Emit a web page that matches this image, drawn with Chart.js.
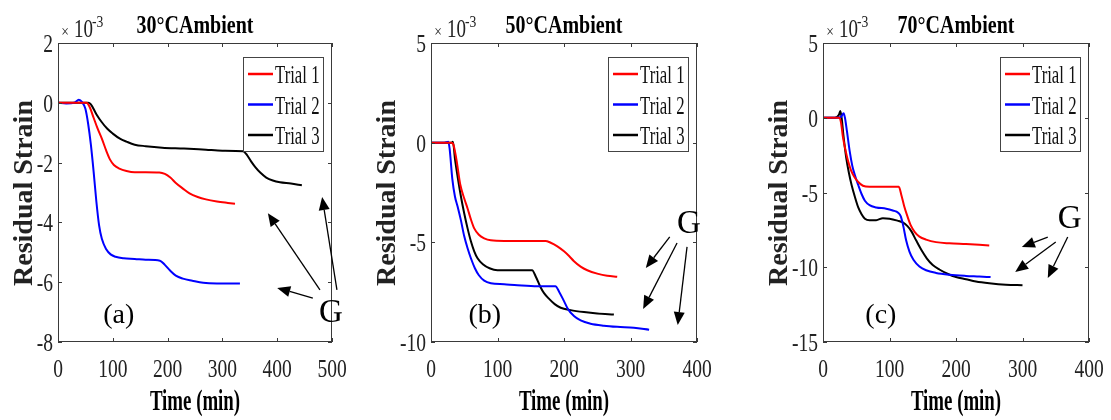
<!DOCTYPE html>
<html>
<head>
<meta charset="utf-8">
<script src="https://cdn.jsdelivr.net/npm/chart.js@4.4.1/dist/chart.umd.min.js"></script>
<style>
  body { margin: 0; background: #fff; }
  canvas { position: absolute; top: 0; }
</style>
</head>
<body>
<canvas id="pa" width="370" height="420" style="left:0px"></canvas>
<canvas id="pb" width="370" height="420" style="left:370px"></canvas>
<canvas id="pc" width="371" height="420" style="left:740px"></canvas>
<script>
// ---- data (time in min, strain in x10^-3) ----
const trialLabels = ['Trial 1', 'Trial 2', 'Trial 3'];
const trialColors = ['#ff0000', '#0000ff', '#000000'];

// (a) 30°C
const a1Time   = [0, 20, 40, 52, 58, 65, 72, 80, 88, 95, 102, 112, 125, 140, 160, 185, 195, 205, 215, 228, 240, 255, 270, 290, 310, 323];
const a1Strain = [0, 0, 0, 0, -0.15, -0.5, -0.85, -1.2, -1.6, -1.9, -2.08, -2.2, -2.28, -2.32, -2.32, -2.33, -2.38, -2.5, -2.68, -2.87, -3.03, -3.15, -3.23, -3.3, -3.35, -3.38];
const a2Time   = [0, 15, 30, 38, 44, 50, 55, 60, 65, 70, 75, 80, 88, 96, 105, 120, 140, 160, 186, 195, 205, 215, 228, 245, 265, 290, 332];
const a2Strain = [0, -0.02, 0, 0.1, 0.02, -0.2, -0.7, -1.4, -2.3, -3.3, -4.1, -4.55, -4.9, -5.07, -5.15, -5.2, -5.22, -5.25, -5.28, -5.42, -5.62, -5.78, -5.88, -5.95, -6.02, -6.04, -6.04];
const a3Time   = [0, 20, 40, 55, 60, 70, 80, 90, 100, 113, 125, 140, 160, 190, 230, 270, 300, 338, 345, 352, 360, 370, 380, 392, 405, 425, 445];
const a3Strain = [0, 0, 0, 0, -0.05, -0.38, -0.65, -0.87, -1.03, -1.2, -1.3, -1.4, -1.45, -1.5, -1.53, -1.57, -1.6, -1.62, -1.75, -1.95, -2.15, -2.35, -2.5, -2.6, -2.66, -2.7, -2.76];

// (b) 50°C
const b1Time   = [0, 20, 30, 33, 38, 44, 50, 55, 60, 65, 72, 80, 90, 110, 140, 172, 180, 190, 200, 208, 215, 225, 235, 250, 265, 280];
const b1Strain = [0, 0, 0, -0.05, -0.8, -2.1, -2.8, -3.3, -3.85, -4.3, -4.62, -4.8, -4.9, -4.93, -4.93, -4.93, -5.02, -5.2, -5.45, -5.7, -5.95, -6.22, -6.4, -6.57, -6.68, -6.73];
const b2Time   = [0, 20, 26, 28, 32, 36, 40, 45, 50, 55, 60, 66, 72, 80, 90, 110, 130, 160, 187, 193, 200, 206, 215, 225, 240, 260, 280, 305, 328];
const b2Strain = [0, 0, 0.05, -0.3, -1.8, -2.7, -3.2, -3.9, -4.7, -5.3, -5.8, -6.3, -6.65, -6.92, -7.05, -7.1, -7.15, -7.2, -7.2, -7.5, -7.95, -8.35, -8.7, -8.92, -9.08, -9.18, -9.24, -9.29, -9.38];
const b3Time   = [0, 25, 31, 33, 36, 40, 45, 50, 55, 60, 65, 70, 78, 88, 100, 120, 152, 158, 164, 170, 178, 186, 195, 210, 230, 250, 275];
const b3Strain = [0, 0, 0, 0.05, -0.8, -1.7, -2.7, -3.55, -4.3, -4.95, -5.45, -5.8, -6.1, -6.3, -6.4, -6.4, -6.4, -6.75, -7.2, -7.55, -7.85, -8.1, -8.28, -8.4, -8.5, -8.57, -8.62];

// (c) 70°C
const c1Time   = [0, 15, 24, 27, 30, 34, 38, 42, 47, 53, 60, 70, 90, 114, 118, 122, 127, 132, 138, 145, 155, 170, 190, 215, 235, 250];
const c1Strain = [0, 0, 0, -0.3, -1.3, -2.2, -2.95, -3.5, -3.95, -4.3, -4.55, -4.62, -4.62, -4.62, -5.2, -5.9, -6.6, -7.2, -7.65, -7.95, -8.15, -8.32, -8.4, -8.45, -8.5, -8.55];
const c2Time   = [0, 20, 27, 31, 33, 36, 40, 44, 48, 53, 58, 63, 70, 80, 95, 105, 113, 117, 121, 125, 130, 136, 145, 155, 170, 190, 215, 235, 252];
const c2Strain = [0, 0, 0.05, 0.3, 0, -0.9, -2.2, -3.2, -3.85, -4.5, -5.1, -5.55, -5.85, -6.0, -6.08, -6.2, -6.35, -6.6, -7.3, -8.2, -8.95, -9.5, -9.95, -10.2, -10.38, -10.5, -10.58, -10.62, -10.66];
const c3Time   = [0, 18, 24, 26, 28, 31, 35, 39, 43, 48, 53, 58, 63, 70, 80, 90, 100, 112, 120, 127, 133, 140, 148, 156, 165, 175, 188, 200, 215, 230, 250, 275, 300];
const c3Strain = [0, 0, 0.2, 0.45, 0, -1.3, -2.7, -3.7, -4.5, -5.3, -6.0, -6.45, -6.75, -6.85, -6.85, -6.72, -6.75, -6.88, -7.0, -7.25, -7.6, -8.2, -8.85, -9.4, -9.85, -10.15, -10.45, -10.65, -10.8, -10.95, -11.07, -11.17, -11.2];

const SERIF = '"Liberation Serif", "Times New Roman", serif';

function pts(ts, vs) {
  return ts.map((t, i) => ({ x: t, y: vs[i] }));
}

function squeeze(ctx, text, x, y, font, sx, align) {
  ctx.save();
  ctx.font = font;
  ctx.translate(x, y);
  ctx.scale(sx, 1);
  ctx.textAlign = align || 'center';
  ctx.textBaseline = 'alphabetic';
  ctx.fillText(text, 0, 0);
  ctx.restore();
}

function arrow(ctx, x1, y1, x2, y2) {
  const ang = Math.atan2(y2 - y1, x2 - x1);
  const hl = 13, hw = 5.5;
  const bx = x2 - hl * Math.cos(ang), by = y2 - hl * Math.sin(ang);
  ctx.beginPath(); ctx.moveTo(x1, y1); ctx.lineTo(bx, by); ctx.stroke();
  ctx.beginPath();
  ctx.moveTo(x2, y2);
  ctx.lineTo(bx + hw * Math.sin(ang), by - hw * Math.cos(ang));
  ctx.lineTo(bx - hw * Math.sin(ang), by + hw * Math.cos(ang));
  ctx.closePath();
  ctx.fill();
}

// frame, inner ticks, labels, legend, annotations (matlab look)
const figPlugin = {
  id: 'fig',
  afterDraw(chart, args, o) {
    const { ctx, chartArea: a, scales: { x, y } } = chart;
    ctx.save();
    ctx.fillStyle = '#000';
    ctx.strokeStyle = '#3a3a3a';
    ctx.lineWidth = 1;
    ctx.strokeRect(a.left + 0.5, a.top + 0.5, a.width - 1, a.height - 1);

    ctx.beginPath();
    x.ticks.forEach(t => {
      const px = Math.round(x.getPixelForValue(t.value)) + 0.5;
      ctx.moveTo(px, a.bottom); ctx.lineTo(px, a.bottom - 4);
      ctx.moveTo(px, a.top); ctx.lineTo(px, a.top + 4);
    });
    y.ticks.forEach(t => {
      const py = Math.round(y.getPixelForValue(t.value)) + 0.5;
      ctx.moveTo(a.left, py); ctx.lineTo(a.left + 4, py);
      ctx.moveTo(a.right, py); ctx.lineTo(a.right - 4, py);
    });
    ctx.stroke();

    ctx.fillStyle = '#222';
    x.ticks.forEach(t => {
      squeeze(ctx, String(t.value), x.getPixelForValue(t.value), a.bottom + 35, '26px ' + SERIF, 0.75, 'center');
    });
    y.ticks.forEach(t => {
      squeeze(ctx, String(t.value), a.left - 5, y.getPixelForValue(t.value) + 9, '26px ' + SERIF, 0.75, 'right');
    });

    // exponent
    squeeze(ctx, '\u00d7', a.left + 7, 37, '17px ' + SERIF, 0.8, 'center');
    squeeze(ctx, '10', a.left + 16, 37, '26px ' + SERIF, 0.73, 'left');
    squeeze(ctx, '-3', a.left + 34, 27, '17px ' + SERIF, 0.8, 'left');

    // titles
    ctx.fillStyle = '#000';
    const cx = (a.left + a.right) / 2;
    squeeze(ctx, o.title, cx, 33, 'bold 25px ' + SERIF, 0.8, 'center');
    squeeze(ctx, 'Time (min)', cx, 410, 'bold 29px ' + SERIF, 0.65, 'center');
    ctx.save();
    ctx.translate(o.yTitleX, 193);
    ctx.rotate(-Math.PI / 2);
    ctx.font = 'bold 28px ' + SERIF;
    ctx.fillStyle = '#222';
    ctx.textAlign = 'center';
    ctx.fillText('Residual Strain', 0, 0);
    ctx.restore();

    // legend
    const bw = 80, bh = 94;
    const lx = a.right - 9 - bw, ly = a.top + 14;
    ctx.fillStyle = '#fff';
    ctx.fillRect(lx, ly, bw, bh);
    ctx.strokeStyle = '#444';
    ctx.strokeRect(lx + 0.5, ly + 0.5, bw, bh);
    chart.data.datasets.forEach((ds, i) => {
      const ey = ly + 17 + i * 30.5;
      ctx.strokeStyle = ds.borderColor;
      ctx.lineWidth = 2.5;
      ctx.beginPath(); ctx.moveTo(lx + 5, ey); ctx.lineTo(lx + 30, ey); ctx.stroke();
      ctx.fillStyle = '#111';
      squeeze(ctx, ds.label, lx + 32, ey + 9, '25px ' + SERIF, 0.67, 'left');
    });

    // annotations
    ctx.fillStyle = '#000';
    squeeze(ctx, o.letter, x.getPixelForValue(o.letterAt[0]), y.getPixelForValue(o.letterAt[1]), '28px ' + SERIF, 1, 'center');
    squeeze(ctx, 'G', x.getPixelForValue(o.gAt[0]), y.getPixelForValue(o.gAt[1]), '33px ' + SERIF, 1, 'center');
    ctx.strokeStyle = '#000';
    ctx.lineWidth = 1.3;
    o.arrows.forEach(r => {
      arrow(ctx, x.getPixelForValue(r[0]), y.getPixelForValue(r[1]), x.getPixelForValue(r[2]), y.getPixelForValue(r[3]));
    });
    ctx.restore();
  }
};

function makePanel(id, series, p) {
  new Chart(document.getElementById(id), {
    type: 'line',
    data: {
      datasets: series.map((s, i) => ({
        label: trialLabels[i],
        data: pts(s[0], s[1]),
        borderColor: trialColors[i],
        borderWidth: 2,
        pointRadius: 0,
        cubicInterpolationMode: 'monotone'
      }))
    },
    options: {
      responsive: false,
      animation: false,
      layout: { padding: { left: 0, right: p.padRight, top: 43, bottom: 0 } },
      plugins: {
        legend: { display: false },
        tooltip: { enabled: false },
        fig: p
      },
      scales: {
        x: {
          type: 'linear', min: 0, max: p.xMax,
          ticks: { stepSize: 100, display: false },
          grid: { display: false }, border: { display: false },
          afterFit: s => { s.height = 78; }
        },
        y: {
          min: p.yMin, max: p.yMax,
          ticks: { stepSize: p.yStep, display: false },
          grid: { display: false }, border: { display: false },
          afterFit: s => { s.width = p.yWidth; }
        }
      }
    },
    plugins: [figPlugin]
  });
}

makePanel('pa', [[a1Time, a1Strain], [a2Time, a2Strain], [a3Time, a3Strain]], {
  title: '30°CAmbient', xMax: 500, yMin: -8, yMax: 2, yStep: 2,
  padRight: 38, yWidth: 58, yTitleX: 31.5,
  letter: '(a)', letterAt: [111, -7.36], gAt: [498, -7.33],
  arrows: [[478, -6.26, 383, -3.69], [509, -6.26, 482, -3.15], [465, -6.53, 400, -6.19]]
});
makePanel('pb', [[b1Time, b1Strain], [b2Time, b2Strain], [b3Time, b3Strain]], {
  title: '50°CAmbient', xMax: 400, yMin: -10, yMax: 5, yStep: 5,
  padRight: 43, yWidth: 61, yTitleX: 25,
  letter: '(b)', letterAt: [81, -9.05], gAt: [388, -4.53],
  arrows: [[359, -4.73, 323, -6.29], [370, -5.03, 319, -8.34], [385, -5.23, 371, -9.15]]
});
makePanel('pc', [[c1Time, c1Strain], [c2Time, c2Strain], [c3Time, c3Strain]], {
  title: '70°CAmbient', xMax: 400, yMin: -15, yMax: 5, yStep: 5,
  padRight: 22, yWidth: 83, yTitleX: 47,
  letter: '(c)', letterAt: [87, -13.73], gAt: [371, -7.37],
  arrows: [[338, -7.98, 299, -8.64], [350, -8.31, 289, -10.32], [368, -7.98, 338, -10.72]]
});
</script>
</body>
</html>
